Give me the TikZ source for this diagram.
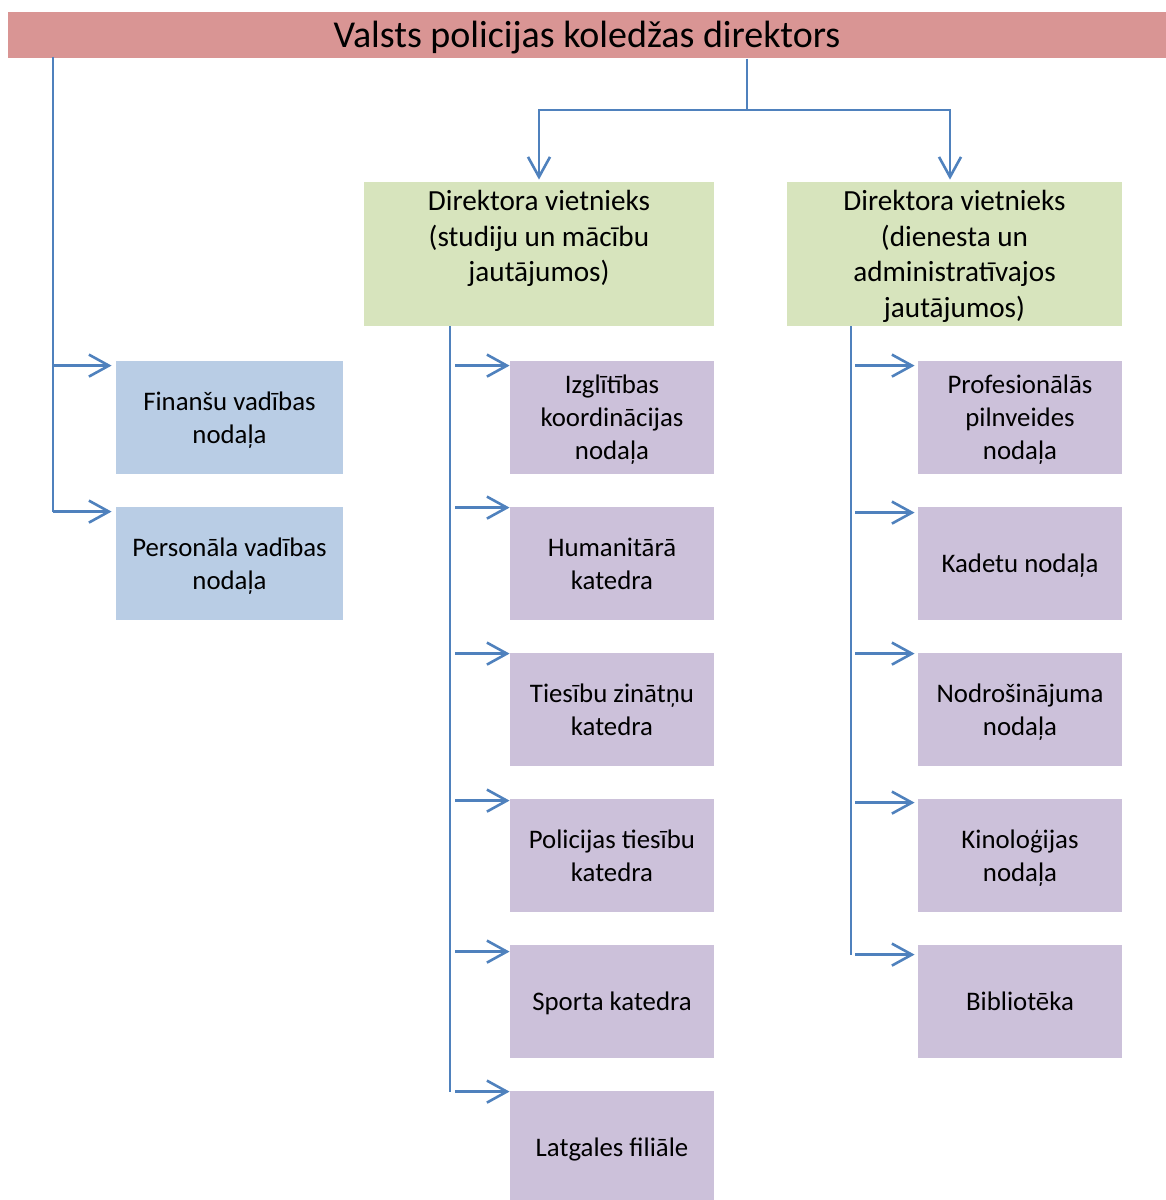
\documentclass[tikz,border=0pt]{standalone}
\usepackage{fontspec}
\setmainfont{Carlito}
\usetikzlibrary{arrows.meta}
\definecolor{headred}{HTML}{D99594}
\definecolor{deputygreen}{HTML}{D7E4BD}
\definecolor{unitblue}{HTML}{B9CDE5}
\definecolor{unitlilac}{HTML}{CCC1DA}
\definecolor{linkblue}{HTML}{4F81BD}
% lines set as in a word processor: one strut of 0.952em + 0.269em each
\newcommand{\wl}[1]{\setbox\strutbox\hbox{\vrule height 0.952em depth 0.269em width 0pt}%
	\begin{tabular}{@{}c@{}}#1\end{tabular}}
\tikzset{
head/.style={
		inner sep=0pt,
		fill=headred,
		minimum width=579pt,
		minimum height=23pt,
		font=\fontsize{19}{23}\selectfont
	},
deputy/.style={
		inner sep=0pt,
		fill=deputygreen,
		minimum height=72pt,
		font=\fontsize{14.6}{17.8}\selectfont
	},
unit/.style={
		inner sep=0pt,
		minimum width=102pt,
		minimum height=56.5pt,
		font=\fontsize{13.4}{16.3}\selectfont
	},
staff/.style={unit, fill=unitblue, minimum width=113.5pt},
dept/.style={unit, fill=unitlilac},
trunk/.style={draw=linkblue, line width=1pt},
arr/.style={
		draw=linkblue,
		line width=1.3pt,
		-{Straight Barb[length=10pt, width=11pt, line width=1.3pt]}
	}
}

\begin{document}
\begin{tikzpicture}[x=0.5pt, y=-0.5pt]
			\useasboundingbox (0,0) rectangle (1166,1200);
			% head of the college
			\node[head] (dir) at (587,35) {\wl{Valsts policijas koledžas direktors}};
			% deputies
			\node[deputy, minimum width=175pt] (dep1) at (539,254)
				{\wl{Direktora vietnieks\\(studiju un mācību\\jautājumos)\\ \mbox{}}};
			\node[deputy, minimum width=167.5pt] (dep2) at (954.5,254)
				{\wl{Direktora vietnieks\\(dienesta un\\administratīvajos\\jautājumos)}};
			% units under the director
			\node[staff] (fin) at (229.5,417.5) {\wl{Finanšu vadības\\nodaļa}};
			\node[staff] (pers) at (229.5,563.5) {\wl{Personāla vadības\\nodaļa}};
			% study units
			\node[dept] (izgl) at (612,417.5) {\wl{Izglītības\\koordinācijas\\nodaļa}};
			\node[dept] (hum) at (612,563.5) {\wl{Humanitārā\\katedra}};
			\node[dept] (ties) at (612,709.5) {\wl{Tiesību zinātņu\\katedra}};
			\node[dept] (pol) at (612,855.5) {\wl{Policijas tiesību\\katedra}};
			\node[dept] (sport) at (612,1001.5) {\wl{Sporta katedra}};
			\node[dept] (latg) at (612,1147.5) {\wl{Latgales filiāle}};
			% service units
			\node[dept] (prof) at (1020,417.5) {\wl{Profesionālās\\pilnveides\\nodaļa}};
			\node[dept] (kad) at (1020,563.5) {\wl{Kadetu nodaļa}};
			\node[dept] (nodr) at (1020,709.5) {\wl{Nodrošinājuma\\nodaļa}};
			\node[dept] (kino) at (1020,855.5) {\wl{Kinoloģijas\\nodaļa}};
			\node[dept] (bibl) at (1020,1001.5) {\wl{Bibliotēka}};

			% director to deputies
			\coordinate (fork) at (747,110);
			\draw[trunk] (dir.south -| fork) -- (fork);
			\draw[arr] (fork) -| ([yshift=1pt]dep1.north);
			\draw[arr] (fork) -| ([yshift=1pt, xshift=-2.25pt]dep2.north);
			% director to staff units
			\coordinate (ltrunk) at (53,57);
			\foreach \u in {fin, pers} {
				\path ([yshift=-2.5pt, xshift=-2pt]\u.north west) coordinate (\u-in);
				\draw[arr] (ltrunk |- \u-in) -- (\u-in);
			}
			\draw[trunk] (ltrunk) -- (ltrunk |- pers-in);
			% study deputy to units
			\coordinate (ctrunk) at (450,325);
			\foreach \u/\dy in {izgl/2.5, hum/0.5, ties/0.5, pol/1, sport/3.5, latg/0.5} {
				\path ([yshift=-\dy pt]\u.north west) coordinate (\u-in);
				\draw[arr] ([xshift=2.5pt]ctrunk |- \u-in) -- (\u-in);
			}
			\draw[trunk] (ctrunk |- dep1.south) -- (ctrunk |- latg-in);
			% service deputy to units
			\coordinate (rtrunk) at (851,325);
			\foreach \u/\dy in {prof/2.5, kad/3, nodr/0.5, kino/2, bibl/5} {
				\path ([yshift=-\dy pt, xshift=-1.5pt]\u.north west) coordinate (\u-in);
				\draw[arr] ([xshift=2pt]rtrunk |- \u-in) -- (\u-in);
			}
			\draw[trunk] (rtrunk |- dep2.south) -- (rtrunk |- bibl-in);
			\end{tikzpicture}
\end{document}
